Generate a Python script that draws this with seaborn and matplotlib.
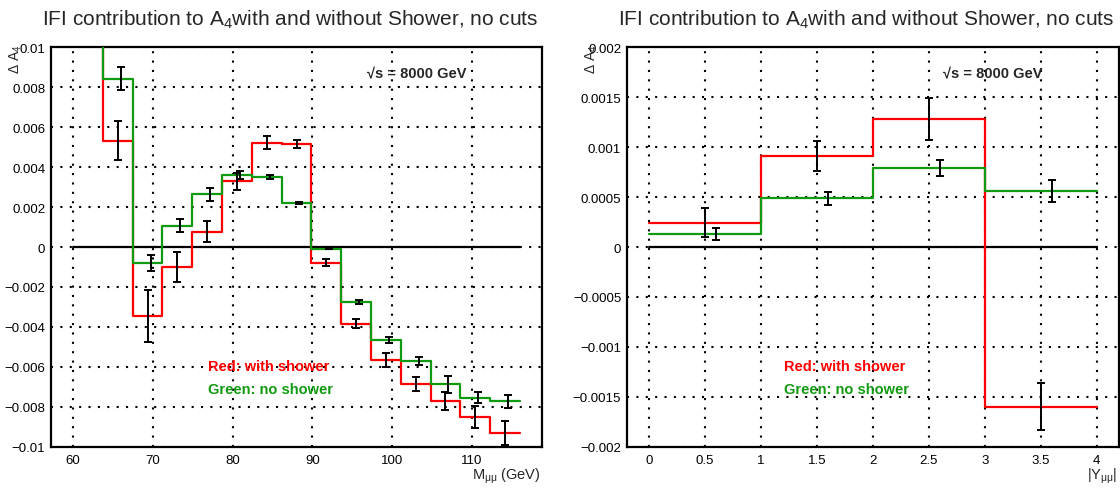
import numpy as np
import pandas as pd
import matplotlib
matplotlib.use("Agg")
import matplotlib.pyplot as plt
import seaborn as sns
from matplotlib.ticker import MultipleLocator, FuncFormatter

# ---------------- data ----------------
# left panel: M_mumu histogram, 15 bins from 60 to 116 GeV (first bin off scale)
mass_range = (60.0, 116.0)
mass_nbins = 15
mass_red = [0.0150, 0.00533, -0.00345, -0.00102, 0.00077, 0.00328, 0.00523, 0.00518,
            -0.00079, -0.00385, -0.00566, -0.00684, -0.00771, -0.00852, -0.00930]
mass_red_err = [0.0010, 0.00096, 0.00130, 0.00075, 0.00052, 0.00044, 0.00034, 0.00020,
                0.00017, 0.00022, 0.00034, 0.00035, 0.00046, 0.00054, 0.00060]
mass_green = [0.0150, 0.00842, -0.00080, 0.00107, 0.00263, 0.00363, 0.00353, 0.00218,
              -0.00008, -0.00274, -0.00466, -0.00570, -0.00687, -0.00755, -0.00773]
mass_green_err = [0.0010, 0.00057, 0.00042, 0.00033, 0.00034, 0.00020, 0.00010, 0.00005,
                  0.00003, 0.00010, 0.00013, 0.00020, 0.00042, 0.00028, 0.00031]

# right panel: |Y_mumu| histogram, 4 bins from 0 to 4
rap_range = (0.0, 4.0)
rap_nbins = 4
rap_red = [0.000243, 0.00091, 0.00128, -0.00160]
rap_red_err = [0.000143, 0.000148, 0.00021, 0.000237]
rap_green = [0.000127, 0.000487, 0.000793, 0.00056]
rap_green_err = [0.00006, 0.000065, 0.000083, 0.000107]

title_text = "IFI contribution to A$_{4}$with and without Shower, no cuts"
energy_text = "\u221As = 8000 GeV"
red_text = "Red: with shower"
green_text = "Green: no shower"
xlabels = ["M$_{\\mu\\mu}$ (GeV)", "|Y$_{\\mu\\mu}$|"]
ylabel = "\u0394 A$_{4}$"

RED = "#ff0000"
GREEN = "#109a10"

# ---------------- style ----------------
sns.set_style("white")
plt.rcParams["font.family"] = ["Liberation Sans", "DejaVu Sans"]
plt.rcParams["mathtext.fontset"] = "custom"
plt.rcParams["mathtext.rm"] = "Liberation Sans"
plt.rcParams["mathtext.it"] = "Liberation Sans"
plt.rcParams["mathtext.bf"] = "Liberation Sans:bold"
plt.rcParams["axes.unicode_minus"] = True

W, H = 1120, 489
fig = plt.figure(figsize=(W / 100, H / 100), dpi=100)
axL = fig.add_axes([50.7 / W, 41.3 / H, 491.6 / W, 399.4 / H])
axR = fig.add_axes([626.7 / W, 41.3 / H, 492.3 / W, 399.4 / H])


def fmt(v, pos):
    v = round(v, 7)
    if v == 0:
        return "0"
    s = f"{v:g}"
    return s.replace("-", "\u2212")


def draw_panel(ax, rng, nbins, red, red_err, green, green_err, xlim, ylim,
               xmaj, xmin_, ymaj, ymin_, xlabel):
    edges = np.linspace(rng[0], rng[1], nbins + 1)
    centers = 0.5 * (edges[:-1] + edges[1:])
    width = edges[1] - edges[0]

    ax.set_xlim(*xlim)
    ax.set_ylim(*ylim)

    # grid
    ax.xaxis.set_major_locator(MultipleLocator(xmaj))
    ax.xaxis.set_minor_locator(MultipleLocator(xmin_))
    ax.yaxis.set_major_locator(MultipleLocator(ymaj))
    ax.yaxis.set_minor_locator(MultipleLocator(ymin_))
    ax.grid(True, which="major", color="black", linestyle=(0, (1, 3.5)), linewidth=1.5)
    ax.set_axisbelow(True)

    # zero line
    ax.plot([edges[0], edges[-1]], [0, 0], color="black", lw=1.6, zorder=2)

    dfr = pd.DataFrame({"x": edges, "y": list(red) + [red[-1]]})
    dfg = pd.DataFrame({"x": edges, "y": list(green) + [green[-1]]})
    sns.lineplot(data=dfr, x="x", y="y", ax=ax, color=RED, lw=1.6,
                 drawstyle="steps-post", sort=False, estimator=None, zorder=3)
    sns.lineplot(data=dfg, x="x", y="y", ax=ax, color=GREEN, lw=1.6,
                 drawstyle="steps-post", sort=False, estimator=None, zorder=4)

    ax.errorbar(centers, red, yerr=red_err, fmt="none", ecolor="black",
                elinewidth=1.4, capsize=3, capthick=1.4, zorder=5)
    ax.errorbar(centers + 0.1 * width, green, yerr=green_err, fmt="none",
                ecolor="black", elinewidth=1.4, capsize=3, capthick=1.4, zorder=5)

    ax.yaxis.set_major_formatter(FuncFormatter(fmt))
    ax.xaxis.set_major_formatter(FuncFormatter(fmt))
    ax.tick_params(axis="both", which="both", direction="in", top=False, right=False,
                   width=1.5, labelsize=9.5, colors="black")
    ax.tick_params(axis="y", which="major", length=11, pad=4)
    ax.tick_params(axis="y", which="minor", length=5.5)
    ax.tick_params(axis="x", which="major", length=7, pad=5)
    ax.tick_params(axis="x", which="minor", length=3.5)
    for sp in ax.spines.values():
        sp.set_visible(True)
        sp.set_color("black")
        sp.set_linewidth(1.6)
    ax.set_xlabel("")
    ax.set_ylabel("")

    ax.text(0.643, 0.938, energy_text, transform=ax.transAxes, fontsize=10.5,
            fontweight="bold", ha="left", va="center", zorder=6)
    ax.text(0.32, 0.202, red_text, transform=ax.transAxes, fontsize=10.5,
            fontweight="bold", color=RED, ha="left", va="center", zorder=6)
    ax.text(0.32, 0.1445, green_text, transform=ax.transAxes, fontsize=10.5,
            fontweight="bold", color=GREEN, ha="left", va="center", zorder=6)
    ax.text(0.997, -0.048, xlabel, transform=ax.transAxes, fontsize=10.5,
            ha="right", va="top")


draw_panel(axL, mass_range, mass_nbins, mass_red, mass_red_err, mass_green,
           mass_green_err, (57.2, 118.8), (-0.01, 0.01), 10, 2, 0.002, 0.0005,
           xlabels[0])
draw_panel(axR, rap_range, rap_nbins, rap_red, rap_red_err, rap_green,
           rap_green_err, (-0.2, 4.2), (-0.002, 0.002), 0.5, 0.1, 0.0005, 0.0001,
           xlabels[1])

# y titles
fig.text(16 / W, 1 - 44 / H, ylabel, rotation=90, fontsize=10, ha="center", va="top")
fig.text(592 / W, 1 - 44 / H, ylabel, rotation=90, fontsize=10, ha="center", va="top")

# titles
fig.text(290 / W, 1 - 26 / H, title_text, fontsize=15, ha="center", va="baseline")
fig.text(866 / W, 1 - 26 / H, title_text, fontsize=15, ha="center", va="baseline")

fig.savefig("out.png", dpi=100)
